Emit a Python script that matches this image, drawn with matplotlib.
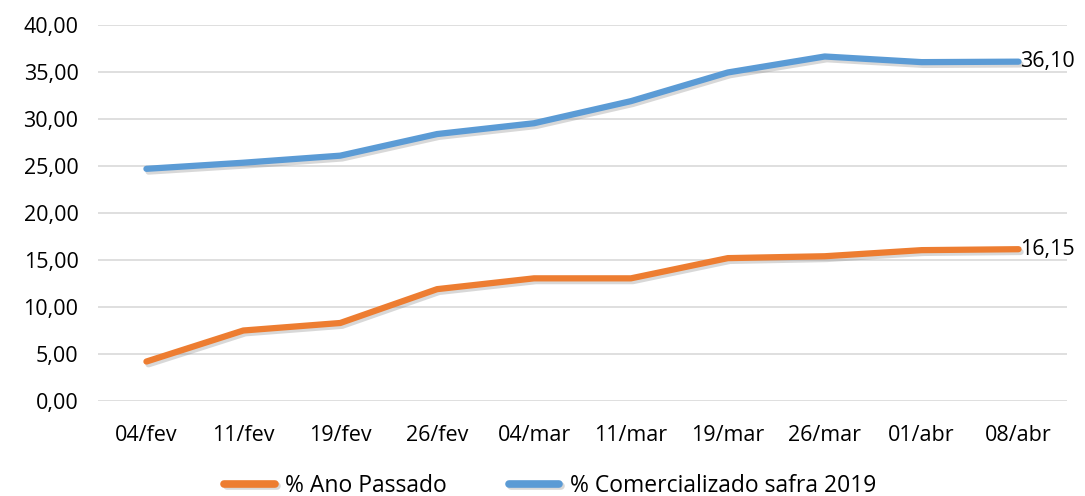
import matplotlib.pyplot as plt
import matplotlib.patheffects as pe

plt.rcParams['font.family'] = ['Open Sans', 'DejaVu Sans']

datas = ['04/fev', '11/fev', '19/fev', '26/fev', '04/mar', '11/mar',
         '19/mar', '26/mar', '01/abr', '08/abr']
ano_passado = [4.2, 7.5, 8.3, 11.9, 13.05, 13.05, 15.2, 15.4, 16.05, 16.15]
safra_2019 = [24.7, 25.35, 26.1, 28.4, 29.55, 31.9, 34.95, 36.65, 36.05, 36.10]

fig = plt.figure(figsize=(10.85, 4.96), dpi=100)
ax = fig.add_axes([0.0903, 0.1915, 0.8931, 0.7581])

x = range(len(datas))
sombra = [pe.SimpleLineShadow(offset=(1.5, -2), shadow_color='gray', alpha=0.3), pe.Normal()]
ax.plot(x, ano_passado, color='#ED7D31', lw=4.5, solid_capstyle='round',
        label='% Ano Passado', path_effects=sombra, zorder=3)
ax.plot(x, safra_2019, color='#5B9BD5', lw=4.5, solid_capstyle='round',
        label='% Comercializado safra 2019', path_effects=sombra, zorder=3)

# rótulos no último ponto
for serie in (ano_passado, safra_2019):
    ax.annotate(f'{serie[-1]:.2f}'.replace('.', ','), xy=(x[-1], serie[-1]),
                xytext=(1, 0), textcoords='offset points', ha='left', va='center',
                fontsize=15.5, color='#000000', annotation_clip=False)

ax.set_xlim(-0.5, len(datas) - 0.5)
ax.set_ylim(0, 40)
ax.set_yticks(range(0, 41, 5))
ax.set_yticklabels([f'{v},00' for v in range(0, 41, 5)], fontsize=15.5)
ax.set_xticks(list(x))
ax.set_xticklabels(datas, fontsize=15.5)
ax.tick_params(length=0, pad=14)
ax.tick_params(axis='x', pad=17)
ax.grid(axis='y', color='#D9D9D9', lw=1.2)
ax.set_axisbelow(True)
for s in ax.spines.values():
    s.set_visible(False)

leg = fig.legend(loc='lower center', bbox_to_anchor=(0.507, -0.045), ncol=2, frameon=False,
                 fontsize=16.5, handlelength=2.2, columnspacing=2.7, handletextpad=0.45)
for h in leg.get_lines():
    h.set_linewidth(5.5)

plt.savefig('out.png', dpi=100)
